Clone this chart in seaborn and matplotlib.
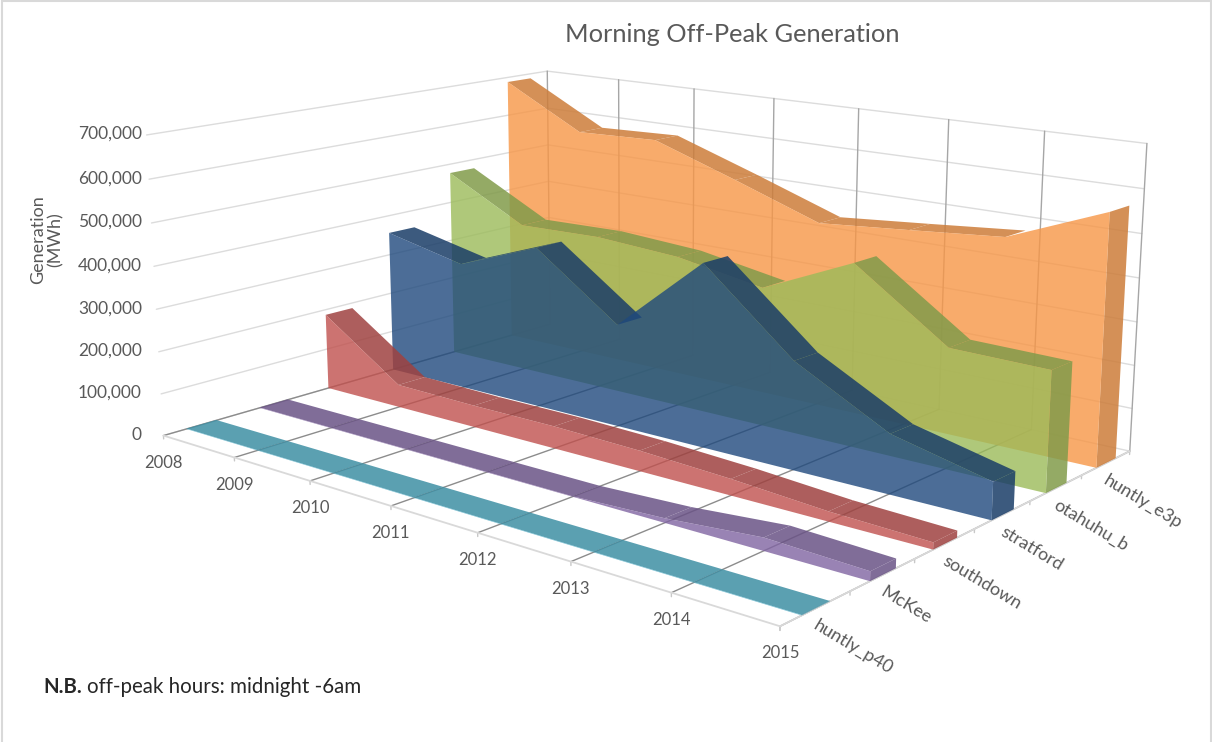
import numpy as np
import seaborn as sns
import matplotlib
matplotlib.use("Agg")
import matplotlib.pyplot as plt
from matplotlib.patches import Rectangle
from mpl_toolkits.mplot3d import proj3d
from mpl_toolkits.mplot3d.art3d import Poly3DCollection

years = ["2008", "2009", "2010", "2011", "2012", "2013", "2014", "2015"]
stations = ["huntly_p40", "McKee", "southdown", "stratford", "otahuhu_b", "huntly_e3p"]
ztick_values = [0, 100000, 200000, 300000, 400000, 500000, 600000, 700000]

huntly_p40 = [1000, 1000, 1000, 1000, 1000, 1000, 1000, 1000]
mckee = [1000, 1000, 1000, 1000, 1000, 10000, 28000, 20000]
southdown = [187000, 55000, 52000, 52000, 47000, 37000, 22000, 15000]
stratford = [356000, 313000, 390000, 244000, 428000, 248000, 134000, 83000]
otahuhu_b = [477000, 374000, 379000, 366000, 330000, 426000, 275000, 271000]
huntly_e3p = [688000, 582000, 589000, 519000, 446000, 464000, 483000, 573000]
series = [huntly_p40, mckee, southdown, stratford, otahuhu_b, huntly_e3p]

palette = sns.color_palette(["#4BACC6", "#8064A2", "#C0504D", "#1F497D", "#9BBB59", "#F79646"])
grey_text = "#595959"

sns.set_theme(style="white")
plt.rcParams["font.family"] = ["Lato", "DejaVu Sans"]

W, H = 1212, 742
fig = plt.figure(figsize=(W / 100, H / 100), dpi=100)
L = 1002.8
ax = fig.add_axes([125.7 / W, -66.8 / H, L / W, L / H], projection="3d", computed_zorder=False)
ax.set_axis_off()
ax.patch.set_alpha(0)
ax.set_xlim(0, 7)
ax.set_ylim(0, 6)
ax.set_zlim(0, 700000)
ax.view_init(13.86, -49.96, 0.055)
ax.set_proj_type("persp", focal_length=0.3995)
ax.set_box_aspect((2.5155, 1.8858, 1))


def line3(xs, ys, zs, color, lw=1.0):
    ax.plot(xs, ys, zs, color=color, lw=lw, clip_on=False, zorder=1)


def label3(x, y, z, text, dx, dy, **kw):
    # label a 3d point with a fixed pixel offset, like Excel does
    vx, vy, _ = proj3d.proj_transform(x, y, z, ax.get_proj())
    ax.annotate(text, xy=(vx, vy), xytext=(dx, dy), textcoords="offset pixels",
                annotation_clip=False, color=grey_text, va="center", **kw)


# walls and floor
for z in ztick_values:
    line3([0, 0], [0, 6], [z, z], "#dcdcdc")
    line3([0, 7], [6, 6], [z, z], "#dcdcdc")
for i in range(8):
    line3([i, i], [6, 6], [0, 700000], "#a6a6a6")
    line3([i, i], [0, 6], [0, 0], "#8c8c8c")
    line3([i, i], [0, 0], [0, -8000], "#c8c8c8")
for j in range(7):
    line3([7, 7], [j, j], [0, -8000], "#c8c8c8")
line3([0, 7], [0, 0], [0, 0], "#d9d9d9", lw=1.3)
line3([7, 7], [0, 6], [0, 0], "#d9d9d9", lw=1.3)

# solids, back to front
front_gap = 0.3
for k in range(5, -1, -1):
    vals = series[k]
    a, b = k + front_gap, k + 1 - front_gap
    base = np.array(palette[k])
    dark = tuple(base * 0.83) + (0.85,)
    face = tuple(base) + (0.8,)
    z0 = 10 + (5 - k) * 3
    strips = []
    for i in range(7):
        # steep rises face away from the camera, so no top face shows
        if vals[i + 1] - vals[i] >= 85000:
            continue
        strips.append([(i, a, vals[i]), (i + 1, a, vals[i + 1]), (i + 1, b, vals[i + 1]), (i, b, vals[i])])
    top = Poly3DCollection(strips, facecolors=dark, edgecolors="none", linewidths=0, zorder=z0)
    end = Poly3DCollection([[(7, a, 0), (7, b, 0), (7, b, vals[7]), (7, a, vals[7])]],
                           facecolors=dark, edgecolors="none", linewidths=0, zorder=z0 + 1)
    poly = [(0, a, 0)] + [(i, a, vals[i]) for i in range(8)] + [(7, a, 0)]
    front = Poly3DCollection([poly], facecolors=face, edgecolors="none", linewidths=0, zorder=z0 + 2)
    for c in (top, end, front):
        ax.add_collection3d(c)
        c.set_clip_on(False)

# tick labels
for i, y in enumerate(years):
    label3(i, 0, 0, y, 0, -27, ha="center", fontsize=12)
for z in ztick_values:
    label3(0, 0, z, f"{z:,}", -22 + 18 * z / 700000, 1, ha="right", fontsize=12.5)
for i, s in enumerate(stations):
    label3(7, i + 0.5, 0, s, -1, -16, ha="left", rotation=-31, rotation_mode="anchor", fontsize=13)

fig.text(732 / W, 1 - 35 / H, "Morning Off-Peak Generation", ha="center", va="center", color=grey_text, fontsize=18.3)
fig.text(46.5 / W, 1 - 240 / H, "Generation\n(MWh)", rotation=90, ha="center", va="center", multialignment="center",
         color=grey_text, fontsize=13, linespacing=1.1)
fig.text(43 / W, 1 - 687 / H, "N.B.", ha="left", va="center", fontweight="bold", color="#262626", fontsize=14.6)
fig.text(87 / W, 1 - 687 / H, "off-peak hours: midnight -6am", ha="left", va="center", color="#262626", fontsize=14.8)
fig.add_artist(Rectangle((2 / W, -5 / H), (W - 3) / W, (H + 4) / H, transform=fig.transFigure,
                         fill=False, edgecolor="#d9d9d9", lw=1.5))

fig.savefig("out.png", dpi=100)
